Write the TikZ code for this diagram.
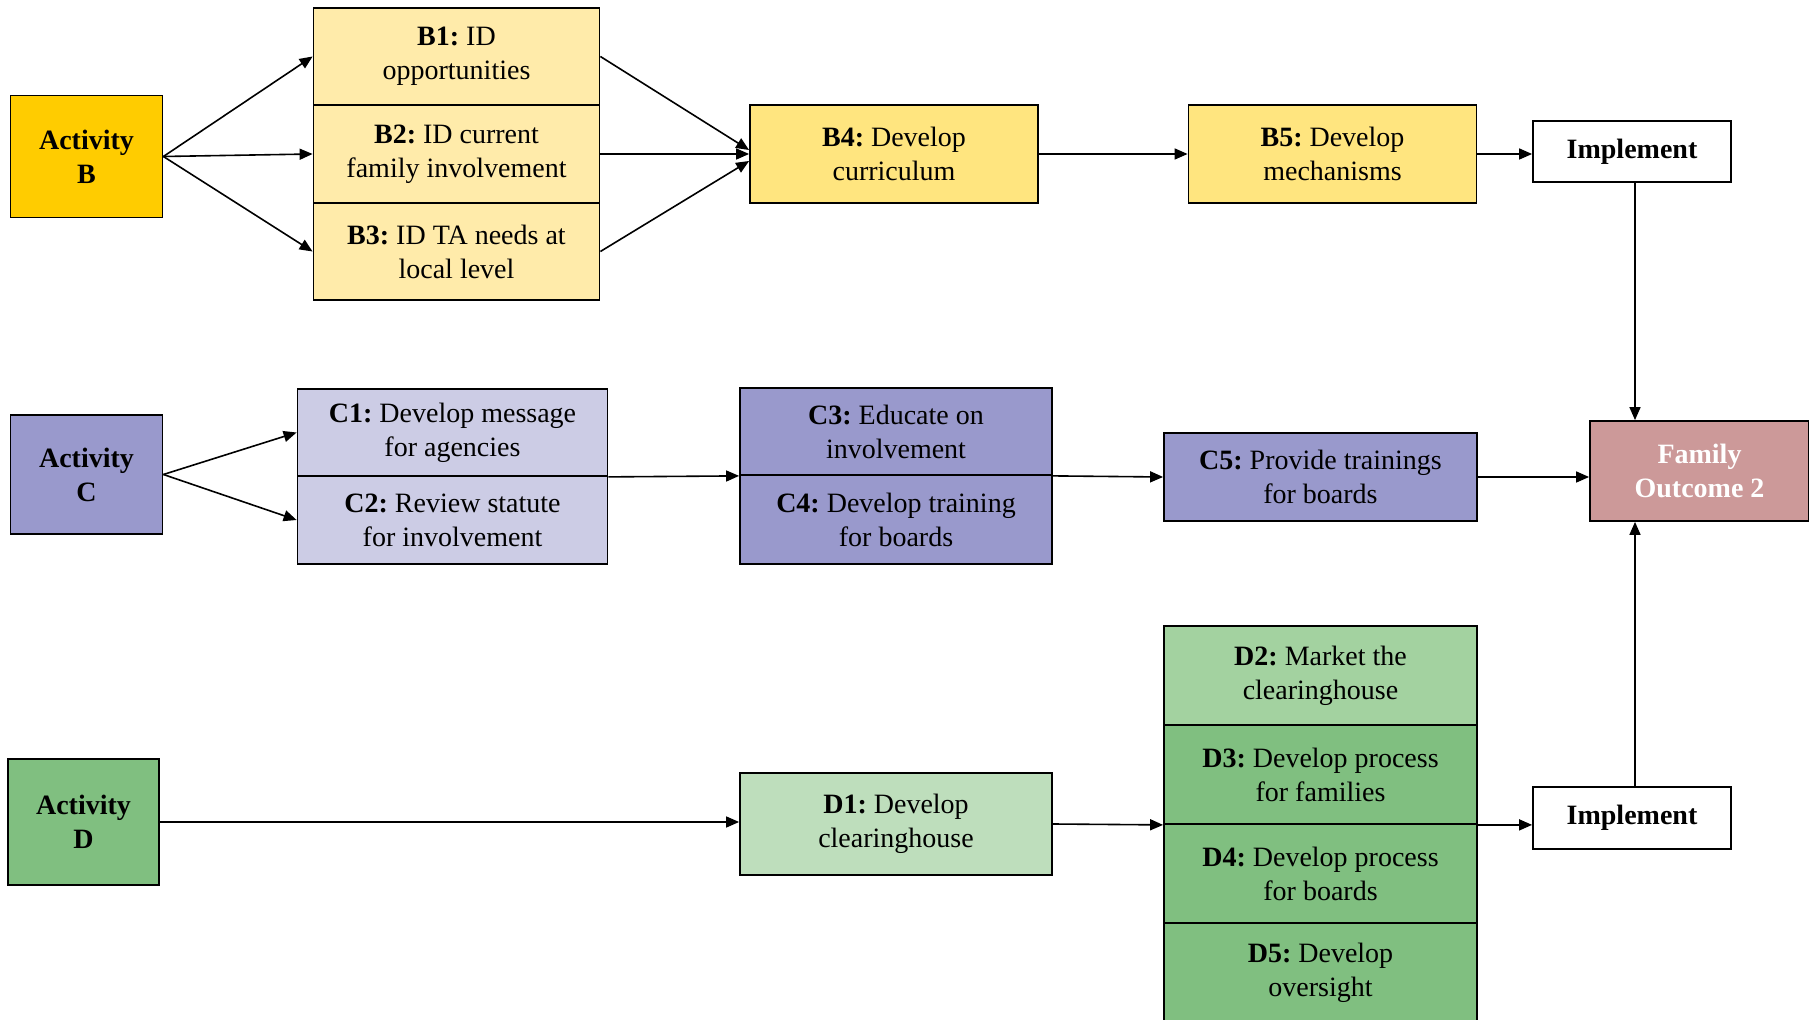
\documentclass[tikz,border=0pt]{standalone}
\usepackage{fontspec}
\setmainfont{Liberation Serif}
\frenchspacing
\usetikzlibrary{arrows.meta}
\definecolor{actBcol}{HTML}{FFCC00}
\definecolor{bLight}{HTML}{FFEBAA}
\definecolor{bMid}{HTML}{FFE57F}
\definecolor{cMid}{HTML}{9999CC}
\definecolor{cLight}{HTML}{CCCCE5}
\definecolor{dMid}{HTML}{80BF80}
\definecolor{dLight}{HTML}{BEDEBC}
\definecolor{dPale}{HTML}{A3D2A0}
\definecolor{foCol}{HTML}{CC9999}

\begin{document}
\begin{tikzpicture}[x=0.5pt,y=-0.5pt,
  box/.style={draw,line width=0.9pt,align=center,inner sep=0pt,
    font=\fontsize{14}{17}\selectfont},
  wide/.style={box,minimum width=155pt,minimum height=49pt},
  act/.style={box,minimum width=76pt,minimum height=61pt,font=\fontsize{14}{17}\selectfont\bfseries},
  arr/.style={-{Triangle[length=6.5pt,width=5.5pt]},line width=0.8pt}]
\useasboundingbox (0,0) rectangle (1809,1020);

\node[act,fill=actBcol] (actB) at (86.5,156.5) {Activity\\B};
\node[box,fill=bLight,minimum width=143pt,minimum height=48.5pt] (B1) at (456.5,56.5) {\textbf{B1:} ID\\opportunities};
\node[box,fill=bLight,minimum width=143pt,minimum height=49pt] (B2) at (456.5,154) {\textbf{B2:} ID current\\family involvement};
\node[box,fill=bLight,minimum width=143pt,minimum height=48.5pt] (B3) at (456.5,251.5) {\textbf{B3:} ID TA needs at\\local level};
\node[box,fill=bMid,minimum width=144pt,minimum height=49pt] (B4) at (894,154) {\textbf{B4:} Develop\\curriculum};
\node[box,fill=bMid,minimum width=144pt,minimum height=49pt] (B5) at (1332.5,154) {\textbf{B5:} Develop\\mechanisms};
\node[box,fill=white,minimum width=99pt,minimum height=30.5pt,font=\fontsize{14}{17}\selectfont\bfseries] (impB) at (1632,151.5) {Implement};

\node[act,fill=cMid,minimum height=59.5pt] (actC) at (86.5,474.5) {Activity\\C};
\node[wide,fill=cLight,minimum height=43.5pt] (C1) at (452.5,432.5) {\textbf{C1:} Develop message\\for agencies};
\node[wide,fill=cLight,minimum height=44pt] (C2) at (452.5,520) {\textbf{C2:} Review statute\\for involvement};
\node[wide,fill=cMid,minimum width=156pt,minimum height=43.5pt] (C3) at (896,431.5) {\textbf{C3:} Educate on\\involvement};
\node[wide,fill=cMid,minimum width=156pt,minimum height=44.5pt] (C4) at (896,519.5) {\textbf{C4:} Develop training\\for boards};
\node[wide,fill=cMid,minimum width=156.5pt,minimum height=44pt] (C5) at (1320.5,477) {\textbf{C5:} Provide trainings\\for boards};
\node[box,fill=foCol,text=white,minimum width=109.5pt,minimum height=50pt,font=\fontsize{14}{17}\selectfont\bfseries] (fam) at (1699.5,471) {Family\\Outcome 2};

\node[act,fill=dMid,minimum width=75.5pt,minimum height=63pt] (actD) at (83.5,822) {Activity\\D};
\node[wide,fill=dLight,minimum width=156pt,minimum height=51pt] (D1) at (896,824) {\textbf{D1:} Develop\\clearinghouse};
\node[wide,fill=dPale,minimum width=156.5pt,minimum height=49.5pt] (D2) at (1320.5,675.5) {\textbf{D2:} Market the\\clearinghouse};
\node[wide,fill=dMid,minimum width=156.5pt,minimum height=49.5pt] (D3) at (1320.5,774.5) {\textbf{D3:} Develop process\\for families};
\node[wide,fill=dMid,minimum width=156.5pt,minimum height=49.5pt] (D4) at (1320.5,873.5) {\textbf{D4:} Develop process\\for boards};
\node[wide,fill=dMid,minimum width=156.5pt,minimum height=49.5pt] (D5) at (1320.5,972.5) {\textbf{D5:} Develop\\oversight};
\node[box,fill=white,minimum width=99pt,minimum height=31pt,font=\fontsize{14}{17}\selectfont\bfseries] (impD) at (1632,818) {Implement};

\foreach \b in {B1,B2,B3}
  \draw[arr] (actB.east) -- (\b.west);
\draw[arr] (B1.east) -- ([yshift=2pt]B4.west);
\draw[arr] (B2.east) -- (B4.west);
\draw[arr] (B3.east) -- ([yshift=-3.5pt]B4.west);
\draw[arr] (B4) -- (B5);
\draw[arr] (B5.east) -- (B5.east -| impB.west);
\draw[arr] ([xshift=1.5pt]impB.south) -- ([xshift=1.5pt]impB.south |- fam.north);

\foreach \c in {C1,C2}
  \draw[arr] (actC.east) -- (\c.west);
\draw[arr] (C1.south east) -- (C3.south west);
\draw[arr] (C3.south east) -- (C5.west);
\draw[arr] (C5.east) -- (C5.east -| fam.west);

\draw[arr] (actD.east) -- (actD.east -| D1.west);
\draw[arr] (D1.east) -- (D3.south west);
\draw[arr] (D3.south east) -- (D3.south east -| impD.west);
\draw[arr] ([xshift=1.5pt]impD.north) -- ([xshift=1.5pt]impD.north |- fam.south);
\end{tikzpicture}
\end{document}
